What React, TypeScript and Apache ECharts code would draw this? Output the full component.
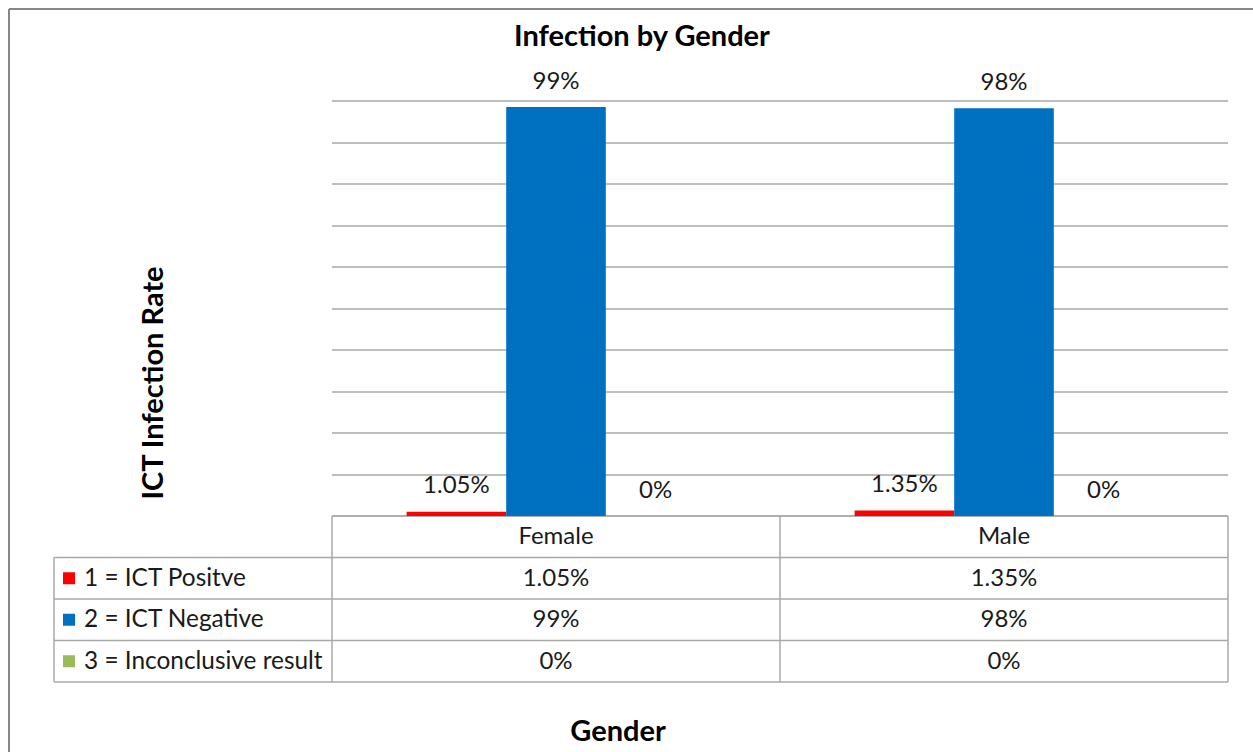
import React, { useEffect, useRef } from "react";
import * as echarts from "echarts";

const categories = ["Female", "Male"];
const seriesNames = ["1 = ICT Positve", "2 = ICT Negative", "3 = Inconclusive result"];
const positive = [1.05, 1.35];
const negative = [98.55, 98.25];
const inconclusive = [0, 0];
const seriesColors = ["#ff0000", "#0070c0", "#9bbb59"];
const titleText = "Infection by Gender";
const yAxisName = "ICT Infection Rate";
const xAxisName = "Gender";

const FONT = "Lato, 'Noto Sans', sans-serif";

function fmt(v: number): string {
  if (v === 0) return "0%";
  if (v >= 10) return Math.round(v) + "%";
  return v.toFixed(2) + "%";
}

export default function App() {
  const ref = useRef<HTMLDivElement>(null);
  useEffect(() => {
    if (!ref.current) return;
    const chart = echarts.init(ref.current, null, { renderer: "svg" });
    const W = 1253;
    const H = 752;
    const plotLeft = 332;
    const plotRight = 1228;
    const plotTop = 101;
    const plotBottom = 516;
    const tableLeft = 54;
    const rowH = 41.5;
    const textShift = -2;
    const allSeries = [positive, negative, inconclusive];
    const lineColor = "#a8a8a8";
    const colW = (plotRight - plotLeft) / categories.length;

    const graphics: any[] = [];
    // outer frame
    graphics.push({ type: "line", shape: { x1: 9, y1: 9, x2: W + 5, y2: 9 }, style: { stroke: "#878787", lineWidth: 2 } });
    graphics.push({ type: "line", shape: { x1: 9, y1: 9, x2: 9, y2: H + 5 }, style: { stroke: "#878787", lineWidth: 2 } });

    const tableBottom = plotBottom + rowH * (1 + seriesNames.length);
    // horizontal lines
    graphics.push({ type: "line", shape: { x1: plotLeft, y1: plotBottom, x2: plotRight, y2: plotBottom }, style: { stroke: lineColor, lineWidth: 1.5 } });
    for (let r = 1; r <= seriesNames.length + 1; r++) {
      const y = plotBottom + rowH * r;
      graphics.push({ type: "line", shape: { x1: tableLeft, y1: y, x2: plotRight, y2: y }, style: { stroke: lineColor, lineWidth: 1.5 } });
    }
    // vertical lines
    graphics.push({ type: "line", shape: { x1: tableLeft, y1: plotBottom + rowH, x2: tableLeft, y2: tableBottom }, style: { stroke: lineColor, lineWidth: 1.5 } });
    for (let c = 0; c <= categories.length; c++) {
      const x = plotLeft + colW * c;
      graphics.push({ type: "line", shape: { x1: x, y1: plotBottom, x2: x, y2: tableBottom }, style: { stroke: lineColor, lineWidth: 1.5 } });
    }
    // header texts
    categories.forEach((cat, c) => {
      graphics.push({
        type: "text",
        x: plotLeft + colW * (c + 0.5),
        y: plotBottom + rowH / 2 + textShift,
        style: { text: cat, font: `24px ${FONT}`, fill: "#1a1a1a", align: "center", verticalAlign: "middle" },
      });
    });
    // rows
    seriesNames.forEach((name, r) => {
      const yc = plotBottom + rowH * (r + 1.5);
      graphics.push({ type: "rect", shape: { x: 63, y: yc - 6, width: 12, height: 12 }, style: { fill: seriesColors[r] } });
      graphics.push({
        type: "text",
        x: 84,
        y: yc + textShift,
        style: { text: name, font: `24.4px ${FONT}`, fill: "#1a1a1a", align: "left", verticalAlign: "middle" },
      });
      categories.forEach((_, c) => {
        graphics.push({
          type: "text",
          x: plotLeft + colW * (c + 0.5),
          y: yc + textShift,
          style: { text: fmt(allSeries[r][c]), font: `24px ${FONT}`, fill: "#1a1a1a", align: "center", verticalAlign: "middle" },
        });
      });
    });
    // title and axis names
    graphics.push({
      type: "text",
      x: 642,
      y: 34,
      style: { text: titleText, font: `bold 29px ${FONT}`, fill: "#000", align: "center", verticalAlign: "middle" },
    });
    graphics.push({
      type: "text",
      x: 151,
      y: 383,
      rotation: Math.PI / 2,
      style: { text: yAxisName, font: `bold 29px ${FONT}`, fill: "#000", align: "center", verticalAlign: "middle" },
    });
    graphics.push({
      type: "text",
      x: 618,
      y: 729,
      style: { text: xAxisName, font: `bold 29px ${FONT}`, fill: "#000", align: "center", verticalAlign: "middle" },
    });

    const label = {
      show: true,
      position: "top",
      distance: 17,
      formatter: (p: any) => fmt(p.value),
      fontFamily: FONT,
      fontSize: 24,
      lineHeight: 22,
      color: "#1a1a1a",
    };

    chart.setOption({
      animation: false,
      grid: { left: plotLeft, right: W - plotRight, top: plotTop, bottom: H - plotBottom, containLabel: false },
      xAxis: {
        type: "category",
        data: categories,
        axisLine: { show: false },
        axisTick: { show: false },
        axisLabel: { show: false },
      },
      yAxis: {
        type: "value",
        min: 0,
        max: 100,
        interval: 10,
        axisLine: { show: false },
        axisTick: { show: false },
        axisLabel: { show: false },
        splitLine: { lineStyle: { color: lineColor, width: 1.5 } },
      },
      series: seriesNames.map((name, i) => ({
        name,
        type: "bar",
        data: allSeries[i],
        barGap: "0%",
        barCategoryGap: "33.3%",
        itemStyle: { color: seriesColors[i] },
        label,
      })),
      graphic: graphics,
    });
    return () => chart.dispose();
  }, []);
  return (
    <div
      ref={ref}
      style={{ position: "fixed", left: 0, top: 0, width: 1253, height: 752, background: "#fff" }}
    />
  );
}
